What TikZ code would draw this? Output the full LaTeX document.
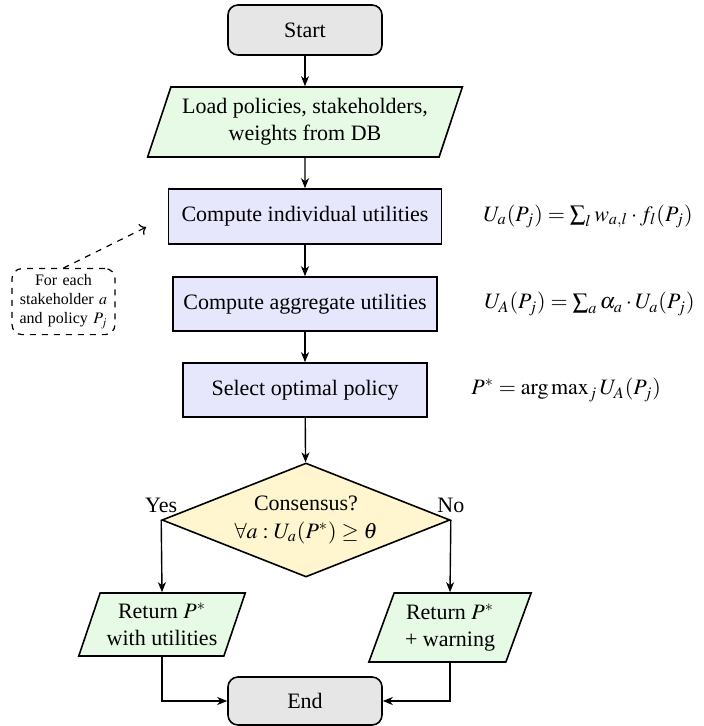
\documentclass[tikz,border=0pt]{standalone}
\usepackage{mathptmx}
\usepackage[no-math]{fontspec}
\setmainfont{Liberation Serif}
\usetikzlibrary{shapes.geometric,arrows.meta,positioning,calc}

\definecolor{termgray}{RGB}{230,230,230}
\definecolor{iogreen}{RGB}{230,250,230}
\definecolor{procblue}{RGB}{230,230,252}
\definecolor{decyellow}{RGB}{255,245,206}

\begin{document}
\begin{tikzpicture}[x=0.5pt,y=-0.5pt,
  base/.style={draw=black, line width=0.8pt, font=\fontsize{11}{13.6}\selectfont, align=center},
  terminal/.style={base, rectangle, rounded corners=5pt, fill=termgray, minimum width=77pt},
  io/.style={base, trapezium, trapezium left angle=70, trapezium right angle=110,
             trapezium stretches=true, fill=iogreen, inner xsep=2pt},
  process/.style={base, rectangle, fill=procblue, minimum height=27.5pt},
  decision/.style={base, diamond, aspect=2.5, inner sep=0pt, fill=decyellow,
                   minimum width=144pt, minimum height=57pt},
  flow/.style={line width=0.7pt, -{Stealth[length=5pt,width=4pt,inset=1.5pt]}},
  formula/.style={anchor=west, inner sep=0pt, font=\fontsize{11}{13.6}\selectfont},
  answer/.style={above, font=\fontsize{11}{13.6}\selectfont},
  remark/.style={draw, dashed, rounded corners=5pt, line width=0.6pt, align=center,
                 font=\footnotesize, inner sep=3pt, text width=45.5pt},
]
\useasboundingbox (0,0) rectangle (704,726);

% main flow
\node[terminal, minimum height=25pt] (start) at (305,30) {Start};
\node[io, minimum width=157.5pt, minimum height=35pt] (load) at (305,122)
  {Load policies, stakeholders,\\weights from DB};
\node[process, minimum width=136.5pt] (indiv) at (305,216.5) {Compute individual utilities};
\node[process, minimum width=132pt, minimum height=27pt] (aggr) at (305,304) {Compute aggregate utilities};
\node[process, minimum width=122pt, minimum height=27pt] (select) at (305,390) {Select optimal policy};
\node[decision] (dec) at (306,520) {Consensus?\\$\forall a : U_a(P^*) \geq \theta$};
\node[io, minimum width=83.5pt, minimum height=31.5pt] (ret1) at (162,624.5)
  {Return $P^*$\\with utilities};
\node[io, minimum width=81.5pt, minimum height=34.5pt] (ret2) at (450,627.5)
  {Return $P^*$\\+ warning};
\node[terminal, minimum height=24pt] (end) at (305,701) {End};

% branch labels
\node[answer] (yes) at (dec.west) {Yes};
\node[answer] (no) at (dec.east) {No};

% formulas beside the steps
\node[formula] (f1) at (483,216.5) {$U_a(P_j) = \sum_l w_{a,l} \cdot f_l(P_j)$};
\node[formula] (f2) at (484,304) {$U_A(P_j) = \sum_a \alpha_a \cdot U_a(P_j)$};
\node[formula] (f3) at (471,390) {$P^* = \arg\max_j U_A(P_j)$};

% side remark
\node[remark, anchor=north] (note) at (63.5,268) {For each\\stakeholder $a$\\and policy $P_j$};
\draw[dashed, line width=0.6pt, ->, shorten >=12pt] (note.north) -- (indiv.west);

% connectors
\draw[flow] (start) -- (load);
\draw[flow] (load) -- (indiv);
\draw[flow] (indiv) -- (aggr);
\draw[flow] (aggr) -- (select);
\draw[flow] (select) -- (dec);
\draw[flow] (dec.west) -- (ret1.north);
\draw[flow] (dec.east) -- (ret2.north);
\draw[flow] (ret1.south) |- (end.west);
\draw[flow] (ret2.south) |- (end.east);
\end{tikzpicture}
\end{document}
